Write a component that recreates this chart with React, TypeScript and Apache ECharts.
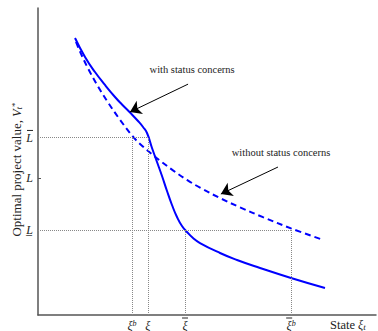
import React, { useEffect, useRef } from 'react';
import * as echarts from 'echarts';

// Curve "with status concerns" (solid)
const stateWith = [1.095, 1.391, 1.686, 1.982, 2.278, 2.485, 2.722, 2.959, 3.107, 3.225, 3.373, 3.521, 3.669, 3.817, 3.964, 4.112, 4.26, 4.408, 4.586, 4.793, 5.385, 5.888, 6.568, 7.485, 8.491];
const valueWith = [9.023, 8.404, 7.915, 7.492, 7.101, 6.857, 6.596, 6.319, 6.124, 5.928, 5.44, 4.984, 4.528, 4.039, 3.583, 3.192, 2.899, 2.704, 2.508, 2.345, 2.02, 1.792, 1.531, 1.205, 0.879];

// Curve "without status concerns" (dashed)
const stateWithout = [1.124, 1.243, 1.479, 1.775, 2.071, 2.426, 2.811, 3.077, 3.373, 3.609, 3.994, 4.408, 4.793, 5.385, 5.976, 6.657, 7.485, 8.432];
const valueWithout = [8.893, 8.58, 8.033, 7.446, 6.925, 6.358, 5.808, 5.515, 5.238, 5.029, 4.71, 4.401, 4.147, 3.808, 3.508, 3.186, 2.821, 2.446];

// Axis marks (ol = bar over the symbol, nb = empty spacer line)
const xTickValues = [2.78, 3.25, 4.35, 7.49];
const xTickLabels = [
  '{nb| }\n{i|ξ}{s|b}',
  '{nb| }\n{i|ξ}',
  '{ol| }\n{i|ξ}',
  '{ol| }{sp| }\n{i|ξ}{s|b}',
];
const yTickValues = [2.77, 4.46, 5.80];
const yTickLabels = ['{i|L\u0332}', '{i|L}', '{ol| }\n{i|L}'];
const yTickMarks = [4.46];

const annotationTexts = ['with status concerns', 'without status concerns'];

const SERIF = "'Liberation Serif', 'DejaVu Serif', serif";
const BLUE = '#0000ff';
const AXIS = '#555';
const TEXT = '#222';

function pick(values: number[], labels: string[], v: number) {
  const i = values.findIndex((t) => Math.abs(t - v) < 1e-6);
  return i >= 0 ? labels[i] : '';
}

export default function App() {
  const ref = useRef<HTMLDivElement>(null);
  useEffect(() => {
    if (!ref.current) return;
    const chart = echarts.init(ref.current, undefined, { renderer: 'svg' });
    const [xiB, xi, xiBar, xiBarB] = xTickValues;
    const [Llow, , Lup] = yTickValues;
    const dotted = { type: 'dotted', color: '#888', width: 1 };
    const rich = {
      i: { fontFamily: SERIF, fontStyle: 'italic', fontSize: 12, color: TEXT, lineHeight: 13 },
      s: { fontFamily: SERIF, fontStyle: 'italic', fontSize: 8, color: TEXT, verticalAlign: 'top' },
      sub: { fontFamily: SERIF, fontStyle: 'italic', fontSize: 9, color: TEXT, verticalAlign: 'bottom' },
      sup: { fontFamily: SERIF, fontSize: 9, color: TEXT, verticalAlign: 'top' },
      ol: { fontSize: 1, width: 6, height: 1, lineHeight: 2, backgroundColor: TEXT },
      nb: { fontSize: 1, width: 6, height: 1, lineHeight: 2 },
      sp: { fontSize: 1, width: 4, height: 1, lineHeight: 2 },
    };
    chart.setOption({
      animation: false,
      grid: { left: 38, right: 2, top: 8, bottom: 16, containLabel: false, outerBoundsMode: 'none' },
      xAxis: {
        type: 'value',
        min: 0,
        max: 10,
        name: 'State {i|ξ}{sub|t}',
        nameLocation: 'end',
        nameGap: -46,
        nameMoveOverlap: false,
        nameTextStyle: { fontFamily: SERIF, fontSize: 12.5, color: TEXT, align: 'left', verticalAlign: 'top', padding: [3, 0, 0, 0], rich },
        axisLine: { show: true, lineStyle: { color: AXIS, width: 1.5 } },
        axisTick: { show: false },
        splitLine: { show: false },
        axisLabel: {
          customValues: xTickValues,
          margin: 2,
          formatter: (v: number) => pick(xTickValues, xTickLabels, v),
          rich,
        },
      },
      yAxis: {
        type: 'value',
        min: 0,
        max: 10,
        name: 'Optimal project value, {i|V}{sub|t}{sup|*}',
        nameLocation: 'middle',
        nameGap: 15,
        nameMoveOverlap: false,
        nameTextStyle: { fontFamily: SERIF, fontSize: 13, color: TEXT, padding: [0, 16, 0, 0], rich },
        axisLine: { show: true, lineStyle: { color: AXIS, width: 1.5 } },
        axisTick: { show: true, customValues: yTickMarks, inside: true, length: 3, lineStyle: { color: AXIS } },
        splitLine: { show: false },
        axisLabel: {
          customValues: yTickValues,
          margin: 5,
          formatter: (v: number) => pick(yTickValues, yTickLabels, v),
          rich,
        },
      },
      series: [
        {
          type: 'line',
          name: 'without status concerns',
          data: stateWithout.map((x, i) => [x, valueWithout[i]]),
          showSymbol: false,
          smooth: 0.35,
          lineStyle: { color: BLUE, width: 2, type: [6, 4] },
          markLine: {
            silent: true,
            symbol: 'none',
            label: { show: false },
            lineStyle: dotted,
            data: [
              [{ coord: [0, Lup] }, { coord: [xi, Lup] }],
              [{ coord: [xiB, 0] }, { coord: [xiB, Lup] }],
              [{ coord: [xi, 0] }, { coord: [xi, Lup] }],
              [{ coord: [0, Llow] }, { coord: [xiBarB, Llow] }],
              [{ coord: [xiBar, 0] }, { coord: [xiBar, Llow] }],
              [{ coord: [xiBarB, 0] }, { coord: [xiBarB, Llow] }],
            ],
          },
        },
        {
          type: 'line',
          name: 'with status concerns',
          data: stateWith.map((x, i) => [x, valueWith[i]]),
          showSymbol: false,
          smooth: 0.5,
          lineStyle: { color: BLUE, width: 2 },
          markLine: {
            silent: true,
            symbol: ['none', 'arrow'],
            symbolSize: 11,
            label: { show: false },
            lineStyle: { color: '#000', width: 1, type: 'solid' },
            itemStyle: { color: '#000' },
            data: [
              [{ coord: [4.44, 7.52] }, { coord: [2.72, 6.61] }],
              [{ coord: [7.10, 4.82] }, { coord: [5.41, 3.94] }],
            ],
          },
          markPoint: {
            silent: true,
            symbol: 'circle',
            symbolSize: 0,
            itemStyle: { color: 'transparent' },
            label: {
              show: true,
              position: 'inside',
              fontFamily: SERIF,
              fontSize: 10.5,
              color: TEXT,
              formatter: (p: any) => p.name,
            },
            data: [
              { name: annotationTexts[0], coord: [4.56, 8.01] },
              { name: annotationTexts[1], coord: [7.19, 5.28] },
            ],
          },
        },
      ],
    });
    return () => chart.dispose();
  }, []);
  return <div ref={ref} style={{ position: 'absolute', left: 0, top: 0, width: 378, height: 331 }} />;
}
